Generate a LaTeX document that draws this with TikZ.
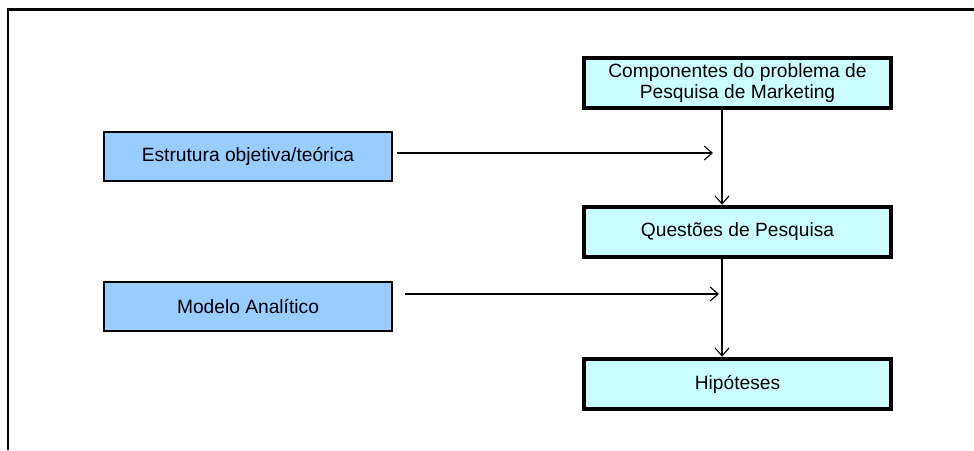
\documentclass[tikz,border=0pt]{standalone}
\usepackage{fontspec}
\setmainfont{Liberation Sans}
\usetikzlibrary{arrows.meta}
\begin{document}
\begin{tikzpicture}[x=1pt,y=-1pt,
  every node/.style={font=\fontsize{19.2}{21.5}\selectfont, text=black},
  mainbox/.style={draw=black, line width=4.5pt, fill={rgb,255:red,204;green,255;blue,255},
    minimum width=307pt, minimum height=50pt, inner sep=0pt, align=center},
  sidebox/.style={draw=black, line width=1.8pt, fill={rgb,255:red,153;green,204;blue,255},
    minimum width=288pt, minimum height=49pt, inner sep=0pt, align=center},
  link/.style={line width=1.1pt, -{Straight Barb[length=8pt,width=14pt,line width=1.1pt]}}]
  \useasboundingbox (0,0) rectangle (974,450);
  % outer frame (top and left edges)
  \draw[line width=2.3pt] (7.7,450) -- (7.7,9.5) -- (974,9.5);
  % right column
  \node[mainbox] (comp) at (737.5,83) {Componentes do problema de\\Pesquisa de Marketing};
  \node[mainbox] (quest) at (737.5,232) {Questões de Pesquisa};
  \node[mainbox] (hip) at (737.5,384) {Hipóteses};
  % left column
  \node[sidebox] (estr) at (248,156.5) {Estrutura objetiva/teórica};
  \node[sidebox] (mod) at (248,306.5) {Modelo Analítico};
  % free ends of the side connectors
  \coordinate (e1) at (713,153);
  \coordinate (e2) at (719,294);
  % connectors
  \draw[link] (comp.south -| 722,0) -- (quest.north -| 722,0);
  \draw[link] (quest.south -| 722,0) -- (hip.north -| 722,0);
  \draw[link] (estr.east |- 0,153) ++(4,0) -- (e1);
  \draw[link] (mod.east |- 0,294) ++(12,0) -- (e2);
\end{tikzpicture}
\end{document}
